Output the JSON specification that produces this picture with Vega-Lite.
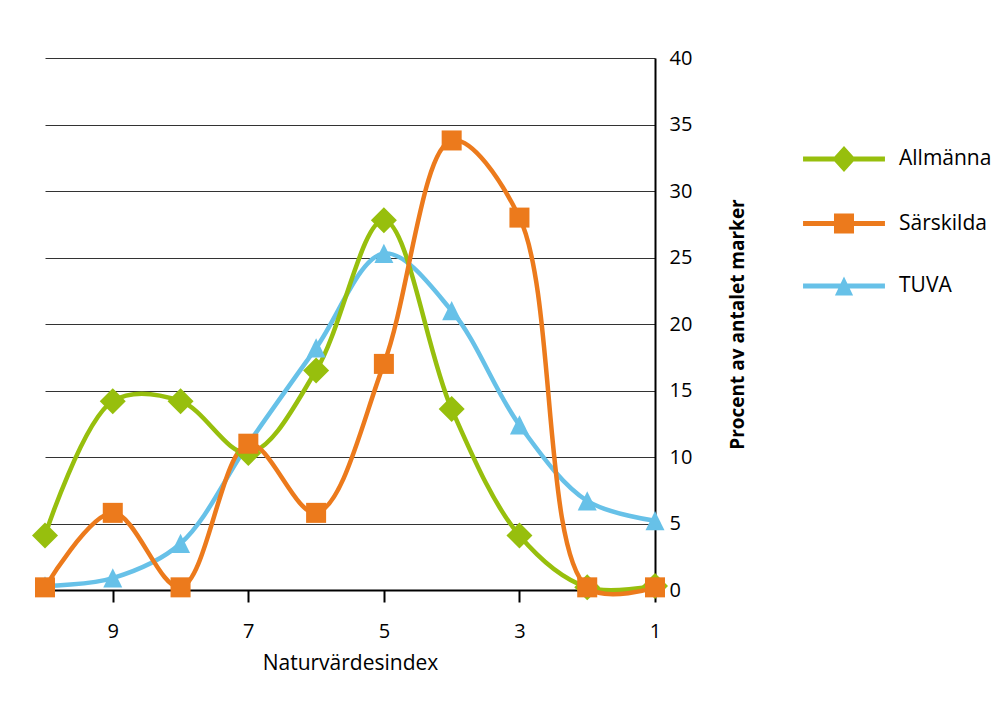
{
  "$schema": "https://vega.github.io/schema/vega-lite/v6.json",
  "width": 610,
  "height": 532,
  "padding": {"left": 45, "top": 58, "right": 349, "bottom": 114},
  "autosize": {"type": "none"},
  "background": "white",
  "config": {
    "view": {"stroke": null},
    "font": "Open Sans",
    "axis": {"labelFont": "Open Sans", "titleFont": "Open Sans"},
    "legend": {"labelFont": "Open Sans"}
  },
  "data": {
    "values": [
      {"series": "TUVA", "index": 10, "value": 0.3},
      {"series": "TUVA", "index": 9, "value": 0.9},
      {"series": "TUVA", "index": 8, "value": 3.5},
      {"series": "TUVA", "index": 7, "value": 11.0},
      {"series": "TUVA", "index": 6, "value": 18.2},
      {"series": "TUVA", "index": 5, "value": 25.3},
      {"series": "TUVA", "index": 4, "value": 21.0},
      {"series": "TUVA", "index": 3, "value": 12.4},
      {"series": "TUVA", "index": 2, "value": 6.7},
      {"series": "TUVA", "index": 1, "value": 5.2},
      {"series": "Allmänna", "index": 10, "value": 4.1},
      {"series": "Allmänna", "index": 9, "value": 14.2},
      {"series": "Allmänna", "index": 8, "value": 14.2},
      {"series": "Allmänna", "index": 7, "value": 10.3},
      {"series": "Allmänna", "index": 6, "value": 16.5},
      {"series": "Allmänna", "index": 5, "value": 27.8},
      {"series": "Allmänna", "index": 4, "value": 13.6},
      {"series": "Allmänna", "index": 3, "value": 4.1},
      {"series": "Allmänna", "index": 2, "value": 0.2},
      {"series": "Allmänna", "index": 1, "value": 0.3},
      {"series": "Särskilda", "index": 10, "value": 0.2},
      {"series": "Särskilda", "index": 9, "value": 5.8},
      {"series": "Särskilda", "index": 8, "value": 0.2},
      {"series": "Särskilda", "index": 7, "value": 11.0},
      {"series": "Särskilda", "index": 6, "value": 5.8},
      {"series": "Särskilda", "index": 5, "value": 17.0},
      {"series": "Särskilda", "index": 4, "value": 33.8},
      {"series": "Särskilda", "index": 3, "value": 28.0},
      {"series": "Särskilda", "index": 2, "value": 0.2},
      {"series": "Särskilda", "index": 1, "value": 0.2}
    ]
  },
  "encoding": {
    "x": {
      "field": "index",
      "type": "quantitative",
      "scale": {"domain": [10, 1], "nice": false, "zero": false},
      "axis": {
        "values": [9, 7, 5, 3, 1],
        "title": "Naturvärdesindex",
        "grid": false,
        "domainColor": "black",
        "domainWidth": 2,
        "tickColor": "black",
        "tickWidth": 2,
        "tickSize": 12,
        "labelFontSize": 20,
        "labelColor": "black",
        "labelPadding": 19,
        "labelFlush": false,
        "titleFontSize": 21,
        "titleFontWeight": "normal",
        "titleColor": "black",
        "titlePadding": 11
      }
    },
    "y": {
      "field": "value",
      "type": "quantitative",
      "scale": {"domain": [0, 40], "nice": false},
      "axis": {
        "orient": "right",
        "values": [0, 5, 10, 15, 20, 25, 30, 35, 40],
        "title": "Procent av antalet marker",
        "grid": true,
        "gridColor": "#333333",
        "gridWidth": 1,
        "ticks": false,
        "domainColor": "black",
        "domainWidth": 2,
        "labelAlign": "left",
        "labelPadding": 14,
        "labelFontSize": 20,
        "labelColor": "black",
        "labelFlush": false,
        "titleFontSize": 19,
        "titleFontWeight": "bold",
        "titleColor": "black",
        "titleAngle": 270,
        "titlePadding": 56
      }
    },
    "color": {
      "field": "series",
      "type": "nominal",
      "scale": {"domain": ["Allmänna", "Särskilda", "TUVA"], "range": ["#97BF0D", "#EC7A1C", "#67C1E8"]},
      "legend": null
    }
  },
  "layer": [
    {
      "mark": {"type": "line", "interpolate": "catmull-rom", "strokeWidth": 4.5}
    },
    {
      "mark": {"type": "point", "filled": true, "opacity": 1, "size": 676, "strokeWidth": 0},
      "encoding": {
        "shape": {
          "field": "series",
          "type": "nominal",
          "scale": {
            "domain": ["Allmänna", "Särskilda", "TUVA"],
            "range": ["M0,-1L1,0L0,1L-1,0Z", "M-0.77,-0.77H0.77V0.77H-0.77Z", "M0,-0.75L0.73,0.73L-0.73,0.73Z"]
          },
          "legend": null
        }
      }
    },
    {
      "transform": [{"filter": "false"}],
      "mark": {"type": "point", "filled": true, "opacity": 1, "size": 676, "strokeWidth": 0},
      "encoding": {
        "color": {
          "field": "series",
          "type": "nominal",
          "scale": {"domain": ["Allmänna", "Särskilda", "TUVA"], "range": ["#97BF0D", "#EC7A1C", "#67C1E8"]},
          "legend": {
            "orient": "none",
            "legendX": 786,
            "legendY": 88,
            "title": null,
            "symbolSize": 676,
            "labelFontSize": 21,
            "labelColor": "black",
            "labelOffset": 42,
            "rowPadding": 38.5,
            "padding": 0,
            "symbolStrokeWidth": 0,
            "symbolOpacity": 1
          }
        },
        "shape": {
          "field": "series",
          "type": "nominal",
          "scale": {
            "domain": ["Allmänna", "Särskilda", "TUVA"],
            "range": [
              "M-3.15,-0.19H3.15V0.19H-3.15Z M0,-1L0.9,0L0,1L-0.9,0Z",
              "M-3.15,-0.19H3.15V0.19H-3.15Z M-0.77,-0.77H0.77V0.77H-0.77Z",
              "M-3.15,-0.19H3.15V0.19H-3.15Z M0,-0.73L0.7,0.73L-0.7,0.73Z"
            ]
          },
          "legend": {
            "orient": "none",
            "legendX": 786,
            "legendY": 88,
            "title": null,
            "symbolSize": 676,
            "labelFontSize": 21,
            "labelColor": "black",
            "labelOffset": 42,
            "rowPadding": 38.5,
            "padding": 0,
            "symbolStrokeWidth": 0,
            "symbolOpacity": 1
          }
        }
      }
    }
  ],
  "resolve": {"scale": {"shape": "independent", "color": "independent"}}
}
